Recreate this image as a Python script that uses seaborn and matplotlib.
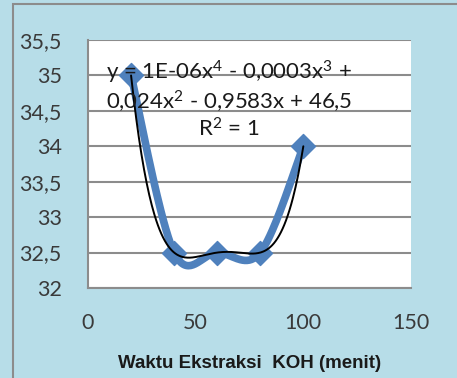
import numpy as np
import pandas as pd
import seaborn as sns
import matplotlib.pyplot as plt
from matplotlib.patches import Rectangle

# data
waktu = [20, 40, 60, 80, 100]
nilai = [35, 32.5, 32.5, 32.5, 34]
x_ticks = [0, 50, 100, 150]
y_ticks = [32, 32.5, 33, 33.5, 34, 34.5, 35, 35.5]
x_label = "Waktu Ekstraksi  KOH (menit)"
eq_text = ("y = 1E-06x$^4$ - 0,0003x$^3$ +\n"
           "0,024x$^2$ - 0,9583x + 46,5\n"
           "R$^2$ = 1")

blue = "#4F81BD"
bg = "#B7DDE8"
grid_c = "#8C8C8C"

sns.set_style("white")
plt.rcParams['font.family'] = ['Lato', 'DejaVu Sans']
plt.rcParams['mathtext.fontset'] = 'custom'
plt.rcParams['mathtext.rm'] = 'Lato'
plt.rcParams['mathtext.it'] = 'Lato'
plt.rcParams['mathtext.default'] = 'rm'


def smooth_line(xs, ys, n=40):
    # Excel-style smoothed line (uniform Catmull-Rom through the points)
    p = np.column_stack([xs, ys]).astype(float)
    p = np.vstack([p[0], p, p[-1]])
    out = []
    for i in range(1, len(p) - 2):
        p0, p1, p2, p3 = p[i - 1], p[i], p[i + 1], p[i + 2]
        t = np.linspace(0, 1, n)[:, None]
        m1 = (p2 - p0) / 2
        m2 = (p3 - p1) / 2
        h00 = 2 * t**3 - 3 * t**2 + 1
        h10 = t**3 - 2 * t**2 + t
        h01 = -2 * t**3 + 3 * t**2
        h11 = t**3 - t**2
        out.append(h00 * p1 + h10 * m1 + h01 * p2 + h11 * m2)
    return np.vstack(out)


curve = smooth_line(waktu, nilai)
df_curve = pd.DataFrame({"x": curve[:, 0], "y": curve[:, 1]})
df_pts = pd.DataFrame({"x": waktu, "y": nilai})

coef = np.polyfit(waktu, nilai, 4)
xt = np.linspace(min(waktu), max(waktu), 200)
df_trend = pd.DataFrame({"x": xt, "y": np.polyval(coef, xt)})

fig = plt.figure(figsize=(4.57, 3.78), dpi=100)
fig.patch.set_facecolor(bg)
fig.patches.append(Rectangle((13 / 457, -0.1), 1.2, 1 - 4 / 378 + 0.1,
                             transform=fig.transFigure, fill=False,
                             edgecolor="#8C8C8C", linewidth=1.5))

ax = fig.add_axes([88 / 457, 90 / 378, 323 / 457, 248 / 378])
ax.set_facecolor("white")

sns.lineplot(data=df_curve, x="x", y="y", ax=ax, color=blue, linewidth=5.5,
             sort=False, zorder=3)
sns.scatterplot(data=df_pts, x="x", y="y", ax=ax, color=blue, marker="D",
                s=150, edgecolor=blue, zorder=4)
sns.lineplot(data=df_trend, x="x", y="y", ax=ax, color="black", linewidth=1.4,
             zorder=5)

ax.set_xlim(0, 150)
ax.set_ylim(32, 35.5)
ax.set_xticks(x_ticks)
ax.set_yticks(y_ticks)
ax.set_yticklabels([f"{v:g}".replace(".", ",") for v in y_ticks])
ax.set_xticklabels([str(v) for v in x_ticks])
ax.tick_params(axis="both", labelsize=15.5, labelcolor="#3a3a3a", colors=grid_c)
ax.tick_params(axis="x", direction="out", length=7, width=1.5, pad=11)
ax.tick_params(axis="y", direction="out", length=6, width=1.5, pad=13)
ax.grid(axis="y", color=grid_c, linewidth=1.5)
ax.set_axisbelow(True)
for s in ["top", "right"]:
    ax.spines[s].set_visible(False)
for s in ["left", "bottom"]:
    ax.spines[s].set_color(grid_c)
    ax.spines[s].set_linewidth(1.5)

ax.set_xlabel(x_label, fontsize=13.5, fontweight="bold",
              family=["Liberation Sans", "DejaVu Sans"], color="#1a1a1a",
              labelpad=16)
ax.set_ylabel("")

ax.text(65.5, 34.66, eq_text, ha="center", va="center", fontsize=16,
        color="#1a1a1a", linespacing=1.15, zorder=6,
        family=["Lato", "DejaVu Sans"])

fig.savefig("out.png", dpi=100, facecolor=bg)
